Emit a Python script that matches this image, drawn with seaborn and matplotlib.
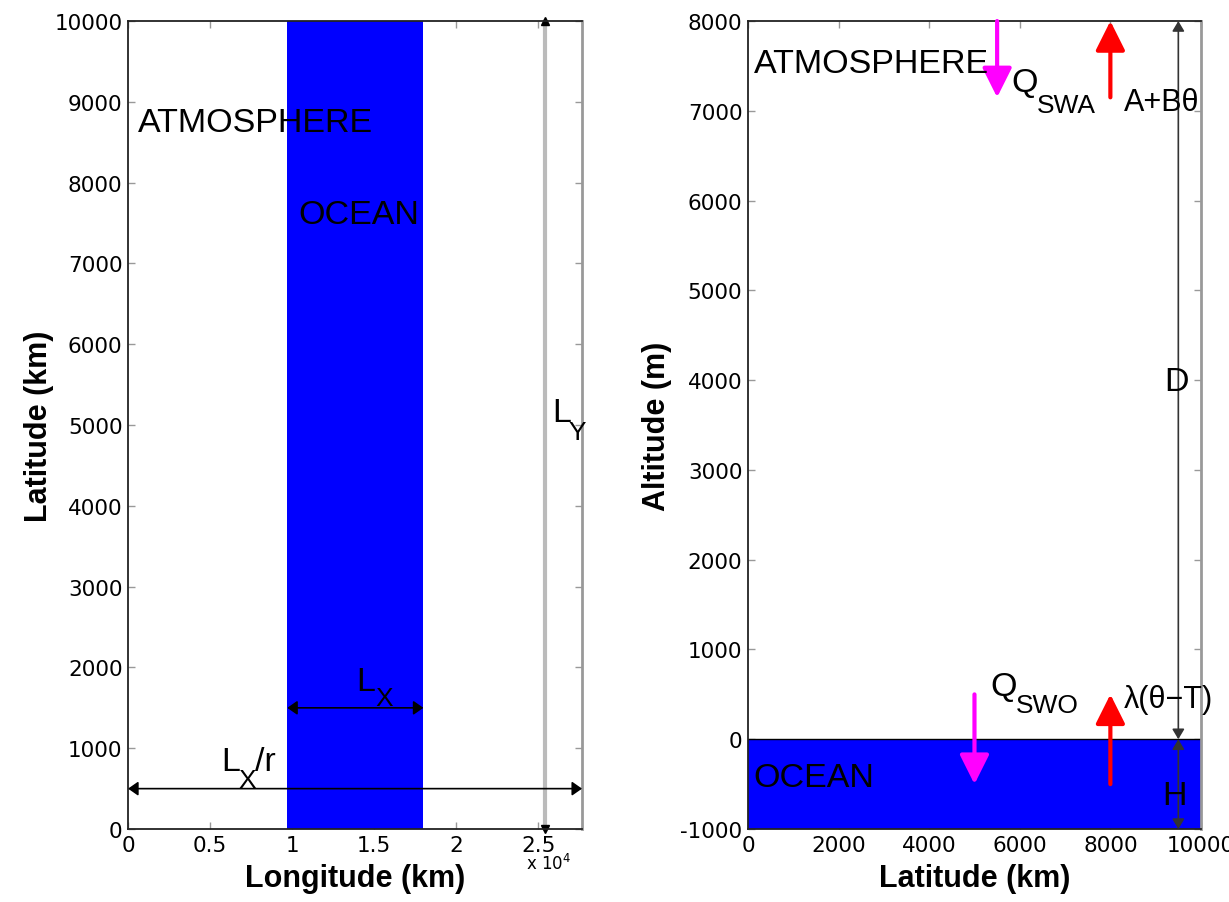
import numpy as np
import matplotlib
matplotlib.use('Agg')
import matplotlib.pyplot as plt
import seaborn as sns

sns.set_style('ticks')
plt.rcParams['font.family'] = ['Liberation Sans', 'DejaVu Sans']
plt.rcParams['axes.unicode_minus'] = False
plt.rcParams['text.color'] = 'black'
plt.rcParams['axes.labelcolor'] = 'black'

# %% data
lx = 8300          # ocean width (km)
r = 0.3            # ocean fraction
ly = 10000         # basin length (km)
ocean_lon = [9700, 18000]
lon_ticks = [0, 5000, 10000, 15000, 20000, 25000]
lon_ticklabels = ['0', '0.5', '1', '1.5', '2', '2.5']
lat_ticks = list(range(0, 10001, 1000))
ly_line_x = 25400

lat_max = 10000
alt_ticks = list(range(-1000, 8001, 1000))
lat_ticks_r = list(range(0, 10001, 2000))
d_atm = 8000       # atmosphere height (m)
h_ocn = 1000       # ocean depth (m)
dh_x = 9500

# flux arrows: x, tail, tip
qswa = [5500, 8000, 7150]
abt = [8000, 7150, 8000]
qswo = [5000, 500, -500]
lam = [8000, -500, 500]

blue = '#0000ff'
mag = '#ff00ff'
red = '#ff0000'

fig = plt.figure(figsize=(12.29, 9.03), dpi=100)
ax1 = fig.add_axes([0.1042, 0.0808, 0.3694, 0.8948])
ax2 = fig.add_axes([0.6086, 0.0808, 0.3686, 0.8948])

big = 24.5
sub = 19

# %% left panel
ax1.axvspan(ocean_lon[0], ocean_lon[1], color=blue, lw=0)
ax1.set_xlim(0, lx / r)
ax1.set_ylim(0, ly)
ax1.set_xticks(lon_ticks)
ax1.set_xticklabels(lon_ticklabels)
ax1.set_yticks(lat_ticks)

dbl = dict(arrowstyle='<|-|>,head_length=0.5,head_width=0.35', color='black',
           lw=1.2, mutation_scale=12, shrinkA=0, shrinkB=0)
ax1.annotate('', xy=(ocean_lon[1], 1500), xytext=(ocean_lon[0], 1500), arrowprops=dbl)
ax1.annotate('', xy=(lx / r, 500), xytext=(0, 500), arrowprops=dbl, annotation_clip=False)

ax1.plot([ly_line_x, ly_line_x], [0, ly], color='#bbbbbb', lw=3, clip_on=False)
ax1.plot([ly_line_x], [ly], marker='^', color='black', ms=6, clip_on=False)
ax1.plot([ly_line_x], [0], marker='v', color='black', ms=6, clip_on=False)

ax1.text(600, 8640, 'ATMOSPHERE', fontsize=big)
ax1.text(10400, 7500, 'OCEAN', fontsize=big)
ax1.text(13900, 1720, 'L', fontsize=big)
ax1.text(15060, 1530, 'X', fontsize=sub)
ax1.text(5670, 730, 'L', fontsize=big)
ax1.text(6710, 520, 'X', fontsize=sub)
ax1.text(7740, 730, '/r', fontsize=big)
ax1.text(25850, 5050, 'L', fontsize=big, clip_on=False)
ax1.text(26830, 4830, 'Y', fontsize=sub, clip_on=False)

ax1.set_xlabel('Longitude (km)', fontsize=22, fontweight='bold', labelpad=6)
ax1.set_ylabel('Latitude (km)', fontsize=22, fontweight='bold', labelpad=0)
ax1.text(0.975, -0.042, r'x 10$^4$', transform=ax1.transAxes, ha='right',
         va='center', fontsize=12, family='DejaVu Sans')

# %% right panel
ax2.axhspan(-h_ocn, 0, color=blue, lw=0)
ax2.plot([0, lat_max], [0, 0], color='black', lw=1)
ax2.set_xlim(0, lat_max)
ax2.set_ylim(-h_ocn, d_atm)
ax2.set_xticks(lat_ticks_r)
ax2.set_yticks(alt_ticks)

thin = dict(arrowstyle='<|-|>,head_length=0.5,head_width=0.3', color='#333333',
            lw=1.2, mutation_scale=12, shrinkA=0, shrinkB=0)
ax2.annotate('', xy=(dh_x, d_atm), xytext=(dh_x, 0), arrowprops=thin)
ax2.annotate('', xy=(dh_x, 0), xytext=(dh_x, -h_ocn), arrowprops=thin)

for f, c in [(qswa, mag), (abt, red), (qswo, mag), (lam, red)]:
    ax2.annotate('', xy=(f[0], f[2]), xytext=(f[0], f[1]),
                 arrowprops=dict(arrowstyle='-|>,head_length=0.9,head_width=0.45',
                                 color=c, lw=3, mutation_scale=20,
                                 shrinkA=0, shrinkB=0),
                 annotation_clip=False)

ax2.text(130, 7430, 'ATMOSPHERE', fontsize=big)
ax2.text(5820, 7220, 'Q', fontsize=big)
ax2.text(6380, 6990, 'SWA', fontsize=sub)
ax2.text(8300, 7010, 'A+Bθ', fontsize=22)
ax2.text(5350, 494, 'Q', fontsize=big)
ax2.text(5920, 300, 'SWO', fontsize=sub)
ax2.text(8300, 360, 'λ(θ−T)', fontsize=22, clip_on=False)
ax2.text(130, -520, 'OCEAN', fontsize=big)
ax2.text(9180, 3890, 'D', fontsize=big)
ax2.text(9140, -720, 'H', fontsize=big)

ax2.set_xlabel('Latitude (km)', fontsize=22, fontweight='bold', labelpad=6)
ax2.set_ylabel('Altitude (m)', fontsize=22, fontweight='bold', labelpad=6)

for ax in [ax1, ax2]:
    ax.tick_params(direction='in', top=True, right=True, length=5, width=1,
                   color='#999999', labelsize=15.5, labelcolor='black',
                   labelfontfamily='DejaVu Sans', pad=4)
    for s in ['left', 'bottom', 'top']:
        ax.spines[s].set_color('#222222')
        ax.spines[s].set_linewidth(1.3)
    ax.spines['right'].set_color('#999999')
    ax.spines['right'].set_linewidth(2)

plt.savefig('out.png', dpi=100)
